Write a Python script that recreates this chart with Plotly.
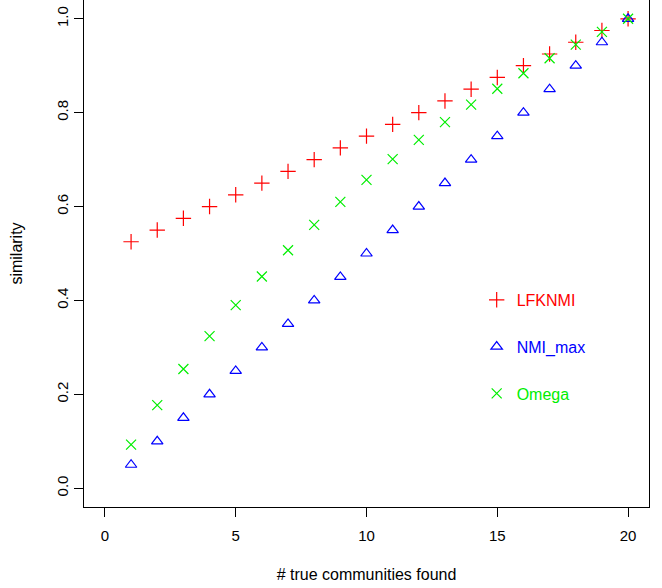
import plotly.graph_objects as go

found = list(range(1, 21))
lfknmi = [0.525, 0.55, 0.575, 0.6, 0.625, 0.65, 0.675, 0.7, 0.725, 0.75,
          0.775, 0.8, 0.825, 0.85, 0.875, 0.9, 0.925, 0.95, 0.975, 1.0]
nmi_max = [0.05, 0.10, 0.15, 0.20, 0.25, 0.30, 0.35, 0.40, 0.45, 0.50,
           0.55, 0.60, 0.65, 0.70, 0.75, 0.80, 0.85, 0.90, 0.95, 1.0]
omega = [0.093, 0.177, 0.254, 0.324, 0.390, 0.451, 0.507, 0.561, 0.610, 0.657,
         0.701, 0.742, 0.780, 0.817, 0.851, 0.884, 0.916, 0.945, 0.972, 1.0]

x_ticks = [0, 5, 10, 15, 20]
y_ticks = [0.0, 0.2, 0.4, 0.6, 0.8, 1.0]
y_tick_labels = ["0.0", "0.2", "0.4", "0.6", "0.8", "1.0"]

FONT = "Liberation Sans, Arial, sans-serif"

fig = go.Figure()
series = [
    ("LFKNMI", lfknmi, "#FF0000", "cross-thin-open", 11),
    ("NMI_max", nmi_max, "#0000FF", "triangle-up-open", 10),
    ("Omega", omega, "#00EE00", "x-thin-open", 10),
]
for name, vals, col, sym, sz in series:
    fig.add_trace(go.Scatter(
        x=found, y=vals, mode="markers", legendgroup=name,
        name=f'<span style="color:{col}">{name}</span>',
        marker=dict(symbol=sym, size=sz,
                    color=col, line=dict(color=col, width=1.2)),
    ))

fig.update_layout(
    width=662, height=588,
    margin=dict(l=84, r=13, t=0, b=81),
    paper_bgcolor="white", plot_bgcolor="white",
    font=dict(family=FONT, size=15, color="black"),
    showlegend=True,
    legend=dict(x=0.695, y=0.442, xanchor="left", yanchor="top",
                bgcolor="rgba(0,0,0,0)", borderwidth=0,
                tracegroupgap=23, font=dict(size=16),
                itemwidth=30),
)
fig.update_xaxes(
    range=[-0.8, 20.8], tickvals=x_ticks, ticks="outside", ticklen=9,
    tickcolor="black", showline=True, linecolor="black", linewidth=1,
    mirror=True, showgrid=False, zeroline=False, automargin=False,
    ticklabelstandoff=6,
    title=dict(text="# true communities found", standoff=25, font=dict(size=16)),
)
fig.update_yaxes(
    range=[-0.04, 1.04], tickvals=y_ticks, ticktext=y_tick_labels,
    ticks="outside", ticklen=9, tickcolor="black", showline=True,
    linecolor="black", linewidth=1, mirror=True, showgrid=False,
    zeroline=False, tickangle=-90, automargin=False,
    title=dict(text="similarity", standoff=27, font=dict(size=16)),
)
fig.write_html("out.html",
               config={"displayModeBar": False},
               post_script="document.body.style.margin='0';")
